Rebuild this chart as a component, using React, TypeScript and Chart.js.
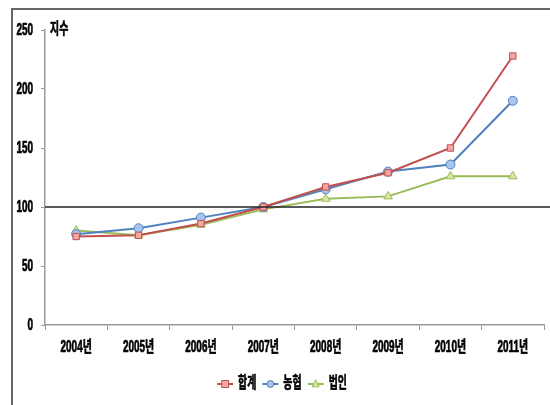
import React, { useEffect, useRef } from "react";
import { Chart, registerables } from "chart.js";

Chart.register(...registerables);

const categories = ["2004년", "2005년", "2006년", "2007년", "2008년", "2009년", "2010년", "2011년"];
const totalValues = [75, 76, 86, 100, 117, 129, 150, 228];
const nonghyupValues = [77, 82, 91, 100, 115, 130, 136, 190];
const corpValues = [80, 76, 85, 98, 107, 109, 126, 126];
const seriesNames = ["합계", "농협", "법인"];
const yTicks = [0, 50, 100, 150, 200, 250];
const referenceValue = 100;
const yAxisTitle = "지수";

const FONT = "'Liberation Sans', 'Noto Sans CJK KR', sans-serif";
const SQUEEZE = 0.62;

const COLORS = [
  { line: "#C0504D", fill: "#F4A6A4", style: "rect" },
  { line: "#4F81BD", fill: "#A9C4EE", style: "circle" },
  { line: "#9BBB59", fill: "#D8E8A4", style: "triangle" },
];

function squeezedText(ctx: CanvasRenderingContext2D, text: string, x: number, y: number, align: CanvasTextAlign) {
  ctx.save();
  ctx.translate(x, y);
  ctx.scale(SQUEEZE, 1);
  ctx.textAlign = align;
  ctx.strokeStyle = "#000";
  ctx.lineWidth = 0.7;
  ctx.fillText(text, 0, 0);
  ctx.strokeText(text, 0, 0);
  ctx.restore();
}

function drawMarker(ctx: CanvasRenderingContext2D, style: string, x: number, y: number, r: number, fill: string, stroke: string) {
  ctx.save();
  ctx.fillStyle = fill;
  ctx.strokeStyle = stroke;
  ctx.lineWidth = 1;
  ctx.beginPath();
  if (style === "rect") {
    ctx.rect(x - r, y - r, 2 * r, 2 * r);
  } else if (style === "circle") {
    ctx.arc(x, y, r, 0, Math.PI * 2);
  } else {
    ctx.moveTo(x, y - r * 1.2);
    ctx.lineTo(x + r, y + r * 0.8);
    ctx.lineTo(x - r, y + r * 0.8);
    ctx.closePath();
  }
  ctx.fill();
  ctx.stroke();
  ctx.restore();
}

const decorPlugin = {
  id: "decor",
  beforeDraw(chart: any) {
    const ctx = chart.ctx as CanvasRenderingContext2D;
    ctx.save();
    ctx.strokeStyle = "#666";
    ctx.lineWidth = 2;
    ctx.beginPath();
    ctx.moveTo(12, 420);
    ctx.lineTo(12, 9);
    ctx.lineTo(560, 9);
    ctx.stroke();
    ctx.restore();
  },
  afterDatasetsDraw(chart: any) {
    const ctx = chart.ctx as CanvasRenderingContext2D;
    const y = chart.scales.y.getPixelForValue(referenceValue);
    const area = chart.chartArea;
    ctx.save();
    ctx.strokeStyle = "#222";
    ctx.lineWidth = 1.5;
    ctx.beginPath();
    ctx.moveTo(area.left, y);
    ctx.lineTo(chart.width, y);
    ctx.stroke();
    ctx.restore();
  },
  afterDraw(chart: any) {
    const ctx = chart.ctx as CanvasRenderingContext2D;
    const area = chart.chartArea;
    const xs = chart.scales.x;
    const ys = chart.scales.y;
    ctx.save();
    ctx.fillStyle = "#000";
    ctx.font = "bold 16px " + FONT;
    ctx.textBaseline = "middle";
    yTicks.forEach((v) => {
      squeezedText(ctx, String(v), area.left - 12, ys.getPixelForValue(v) + 1, "right");
    });
    categories.forEach((c, i) => {
      squeezedText(ctx, c, xs.getPixelForValue(i), area.bottom + 23, "center");
    });
    squeezedText(ctx, yAxisTitle, area.left + 5, area.top, "left");
    const widths = seriesNames.map((n) => ctx.measureText(n).width * SQUEEZE);
    const lineLen = 16;
    const gap = 5;
    const itemGap = 6;
    const total = widths.reduce((a, w) => a + lineLen + gap + w, 0) + itemGap * (seriesNames.length - 1);
    let x = 282 - total / 2;
    const ly = 384;
    seriesNames.forEach((n, i) => {
      const c = COLORS[i];
      ctx.strokeStyle = c.line;
      ctx.lineWidth = 2;
      ctx.beginPath();
      ctx.moveTo(x, ly);
      ctx.lineTo(x + lineLen, ly);
      ctx.stroke();
      drawMarker(ctx, c.style, x + lineLen / 2, ly, 3.5, c.fill, c.line);
      ctx.fillStyle = "#000";
      squeezedText(ctx, n, x + lineLen + gap, ly, "left");
      x += lineLen + gap + widths[i] + itemGap;
    });
    ctx.restore();
  },
};

export default function App() {
  const ref = useRef<HTMLCanvasElement>(null);
  useEffect(() => {
    document.body.style.margin = "0";
    const makeDs = (label: string, data: number[], i: number) => ({
      label,
      data,
      borderColor: COLORS[i].line,
      backgroundColor: COLORS[i].fill,
      pointBackgroundColor: COLORS[i].fill,
      pointBorderColor: COLORS[i].line,
      pointBorderWidth: 1,
      pointStyle: COLORS[i].style === "rect" ? "rect" : COLORS[i].style === "circle" ? "circle" : "triangle",
      pointRadius: COLORS[i].style === "triangle" ? 5 : 4.5,
      borderWidth: 2,
      tension: 0,
      fill: false,
    });
    const chart = new Chart(ref.current!, {
      type: "line",
      data: {
        labels: categories,
        datasets: [
          makeDs(seriesNames[0], totalValues, 0),
          makeDs(seriesNames[1], nonghyupValues, 1),
          makeDs(seriesNames[2], corpValues, 2),
        ] as any,
      },
      options: {
        animation: false,
        responsive: false,
        layout: { padding: { top: 30, right: 4, bottom: 45, left: 0 } },
        plugins: { legend: { display: false }, tooltip: { enabled: false } },
        scales: {
          x: {
            type: "category",
            offset: true,
            grid: { offset: true, drawOnChartArea: false, drawTicks: true, tickLength: 5, color: "#999" },
            border: { display: true, color: "#999", width: 1.5 },
            ticks: { display: false },
            afterFit: (s: any) => {
              s.height = 35;
            },
          },
          y: {
            min: 0,
            max: 250,
            afterBuildTicks: (s: any) => {
              s.ticks = yTicks.map((v) => ({ value: v }));
            },
            grid: { drawOnChartArea: false, drawTicks: true, tickLength: 4, color: "#999" },
            border: { display: true, color: "#999", width: 1.5 },
            ticks: { display: false },
            afterFit: (s: any) => {
              s.width = 45;
            },
          },
        },
      },
      plugins: [decorPlugin],
    });
    return () => chart.destroy();
  }, []);
  return (
    <div style={{ width: 550, height: 405, background: "#fff" }}>
      <canvas ref={ref} width={550} height={405} style={{ display: "block" }} />
    </div>
  );
}
